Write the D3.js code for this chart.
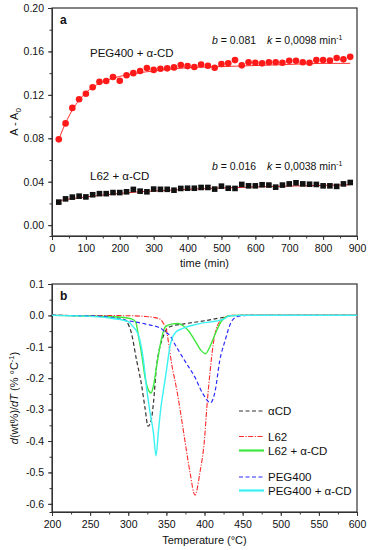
<!DOCTYPE html>
<html>
<head>
<meta charset="utf-8">
<script src="https://cdn.jsdelivr.net/npm/d3@7"></script>
<style>
body { margin: 0; background: #fff; }
svg text { font-family: "Liberation Sans", Arial, sans-serif; fill: #111; }
.axis path, .axis line { stroke: #333; }
</style>
</head>
<body>
<div id="chart"></div>
<script>
// ---- panel a : absorbance vs time ----
var times = [20,40,60,80,100,120,140,160,180,200,220,240,260,280,300,320,340,360,380,
             400,420,440,460,480,500,520,540,560,580,600,620,640,660,680,700,720,740,760,780,800,820,840,860,880];
var peg_cd = [0.079,0.0937,0.108,0.116,0.121,0.127,0.132,0.1327,0.1364,0.133,0.138,0.140,0.142,0.1447,0.143,0.144,0.1444,0.1453,0.1475,
              0.1465,0.1456,0.148,0.1468,0.145,0.1484,0.149,0.152,0.1472,0.150,0.1496,0.149,0.150,0.150,0.1496,0.1514,0.1514,0.150,0.1496,0.152,0.152,0.1517,0.154,0.1527,0.155];
var l62_cd = [0.0212,0.0242,0.0258,0.0267,0.026,0.028,0.029,0.029,0.030,0.030,0.0307,0.0329,0.0313,0.0307,0.0332,0.033,0.033,0.0322,0.0338,
              0.034,0.034,0.0347,0.0347,0.0332,0.0359,0.034,0.0338,0.0375,0.0362,0.0362,0.0372,0.0369,0.035,0.0369,0.038,0.039,0.038,0.0377,0.0375,0.0362,0.0362,0.0357,0.038,0.0393];
// fitted curves
var fit_t   = [20,40,60,80,100,120,150,200,250,300,400,500,600,700,800,880];
var peg_fit = [0.079,0.094,0.106,0.115,0.122,0.127,0.132,0.137,0.140,0.142,0.145,0.146,0.147,0.148,0.149,0.149];
var l62_fit = [0.0225,0.0235,0.0245,0.0252,0.026,0.0267,0.0277,0.0292,0.0305,0.0315,0.033,0.0342,0.0352,0.036,0.0366,0.0372];
var a_xticks = [0,100,200,300,400,500,600,700,800,900];
var a_yticks = [0.00,0.04,0.08,0.12,0.16,0.20];

// ---- panel b : DTG curves [T, value] ----
var acd = [[200,0],[250,-0.001],[280,-0.004],[292,-0.01],[298,-0.02],[304,-0.055],[311,-0.144],[317,-0.215],[322,-0.295],
           [326,-0.353],[330,-0.335],[333,-0.28],[337,-0.165],[341,-0.105],[344,-0.08],[350,-0.045],[357,-0.034],[373,-0.027],
           [400,-0.017],[425,-0.006],[435,-0.001],[450,0],[600,0]];
var l62 = [[200,0],[300,-0.001],[320,-0.003],[335,-0.007],[342,-0.012],[346,-0.025],[350,-0.045],[353,-0.09],[357,-0.155],
           [363,-0.229],[368,-0.3],[374,-0.394],[381,-0.5],[387.5,-0.572],[394,-0.5],[400,-0.394],[403,-0.295],[407,-0.187],
           [411.5,-0.091],[418,-0.027],[427,-0.006],[435,0],[600,0]];
var l62_acd = [[200,0],[260,-0.003],[290,-0.006],[305,-0.012],[310,-0.022],[313,-0.06],[317.6,-0.123],[322,-0.197],[326,-0.235],
               [330,-0.247],[333,-0.225],[337,-0.165],[344,-0.07],[348,-0.038],[352.5,-0.031],[358,-0.027],[365,-0.026],[372,-0.033],
               [379,-0.049],[390,-0.091],[396,-0.113],[401.5,-0.122],[407,-0.10],[414,-0.059],[422.5,-0.017],[430,-0.003],[440,0],[600,0]];
var peg = [[200,0],[256,-0.002],[280,-0.008],[300,-0.017],[322,-0.027],[344,-0.043],[348,-0.052],[355,-0.065],[361,-0.091],
           [374,-0.144],[387.5,-0.197],[398,-0.25],[408,-0.278],[414,-0.24],[420,-0.144],[427,-0.08],[436,-0.017],[445,-0.002],[460,0],[600,0]];
var peg_acd = [[200,0],[256,-0.004],[280,-0.01],[300,-0.02],[306,-0.035],[313,-0.06],[320,-0.144],[324,-0.229],[328,-0.3],
               [333,-0.373],[336.4,-0.447],[339.5,-0.37],[343,-0.29],[347,-0.225],[351,-0.16],[355,-0.095],[359,-0.065],[363,-0.052],
               [370,-0.043],[392,-0.027],[425,-0.012],[432,-0.002],[445,0],[600,0]];
var b_xticks = [200,250,300,350,400,450,500,550,600];
var b_yticks = [-0.6,-0.5,-0.4,-0.3,-0.2,-0.1,0.0,0.1];

var curves = [
    {name: "\u03b1CD",            data: acd,     color: "#333",    dash: "4,2.5", width: 1.2},
    {name: "L62",                 data: l62,     color: "#ff2a2a", dash: "5,1.5,1.2,1.5", width: 1.1},
    {name: "L62 + \u03b1-CD",     data: l62_acd, color: "#3ee83e", dash: null,    width: 1.4},
    {name: "PEG400",              data: peg,     color: "#2b2bff", dash: "4,2.5", width: 1.2},
    {name: "PEG400 + \u03b1-CD",  data: peg_acd, color: "#3af2f2", dash: null,    width: 1.4}
];

var W = 368, H = 550;
var svg = d3.select("#chart").append("svg").attr("width", W).attr("height", H);

function add_axes(g, x, y, xt, yt, xminor, yminor, xfmt, yfmt, w, h){
    g.append("g").attr("class", "axis").attr("transform", "translate(0," + h + ")")
        .call(d3.axisBottom(x).tickValues(xminor).tickSize(2.5).tickFormat(""));
    g.append("g").attr("class", "axis").attr("transform", "translate(0," + h + ")")
        .call(d3.axisBottom(x).tickValues(xt).tickSize(4).tickSizeOuter(0).tickPadding(5).tickFormat(xfmt))
        .selectAll("text").style("font-size", "10.5px");
    g.append("g").attr("class", "axis")
        .call(d3.axisLeft(y).tickValues(yminor).tickSize(2.5).tickFormat(""));
    g.append("g").attr("class", "axis")
        .call(d3.axisLeft(y).tickValues(yt).tickSize(4).tickSizeOuter(0).tickPadding(4).tickFormat(yfmt))
        .selectAll("text").style("font-size", "10.5px");
    g.append("rect").attr("width", w).attr("height", h)
        .attr("fill", "none").attr("stroke", "#333").attr("stroke-width", 1.2);
}

// ---------- panel a ----------
var ma = {left: 52, top: 8}, wa = 305, ha = 228;
var ga = svg.append("g").attr("transform", "translate(" + ma.left + "," + ma.top + ")");
var xa = d3.scaleLinear().domain([0, 900]).range([0, wa]);
var ya = d3.scaleLinear().domain([-0.01, 0.20]).range([ha, 0]);

add_axes(ga, xa, ya, a_xticks, a_yticks,
    d3.range(0, 901, 50), d3.range(-0.0, 0.201, 0.02),
    function(d){ return d; }, function(d){ return d.toFixed(2); }, wa, ha);

var fitline = d3.line()
    .x(function(d){ return xa(d[0]); })
    .y(function(d){ return ya(d[1]); })
    .curve(d3.curveMonotoneX);

ga.append("path").datum(fit_t.map(function(t, i){ return [t, peg_fit[i]]; }))
    .attr("d", fitline).attr("fill", "none").attr("stroke", "#ff3030").attr("stroke-width", 1);
ga.append("path").datum(fit_t.map(function(t, i){ return [t, l62_fit[i]]; }))
    .attr("d", fitline).attr("fill", "none").attr("stroke", "#e02020").attr("stroke-width", 1);

ga.selectAll("circle.peg").data(times).enter().append("circle")
    .attr("class", "peg")
    .attr("cx", function(d){ return xa(d); })
    .attr("cy", function(d, i){ return ya(peg_cd[i]); })
    .attr("r", 3.3).attr("fill", "#ff1a1a");

ga.selectAll("rect.l62").data(times).enter().append("rect")
    .attr("class", "l62")
    .attr("x", function(d){ return xa(d) - 2.8; })
    .attr("y", function(d, i){ return ya(l62_cd[i]) - 2.8; })
    .attr("width", 5.6).attr("height", 5.6).attr("fill", "#111");

ga.append("text").attr("x", 8).attr("y", 16).style("font-size", "12px").style("font-weight", "bold").text("a");
ga.append("text").attr("x", 38).attr("y", 49).style("font-size", "11.5px").text("PEG400 + \u03b1-CD");
ga.append("text").attr("x", 38).attr("y", 172).style("font-size", "11.5px").text("L62 + \u03b1-CD");

function fit_label(g, x, y, b, k){
    var t = g.append("text").attr("x", x).attr("y", y).style("font-size", "10.5px");
    t.append("tspan").style("font-style", "italic").text("b");
    t.append("tspan").text(" = " + b);
    t.append("tspan").attr("dx", 11).style("font-style", "italic").text("k");
    t.append("tspan").text(" = " + k + " min");
    t.append("tspan").attr("dy", -4).style("font-size", "7px").text("-1");
}
fit_label(ga, 160, 36, "0.081", "0,0098");
fit_label(ga, 160, 162, "0.016", "0,0038");

ga.append("text").attr("x", wa / 2).attr("y", ha + 31).attr("text-anchor", "middle")
    .style("font-size", "11px").text("time (min)");
var yla = svg.append("text").attr("transform", "translate(18," + (ma.top + 114) + ") rotate(-90)")
    .attr("text-anchor", "middle").style("font-size", "11px");
yla.append("tspan").text("A - A");
yla.append("tspan").attr("dy", 3).style("font-size", "8px").text("0");

// ---------- panel b ----------
var mb = {left: 52, top: 284}, wb = 305, hb = 228;
var gb = svg.append("g").attr("transform", "translate(" + mb.left + "," + mb.top + ")");
var xb = d3.scaleLinear().domain([200, 600]).range([0, wb]);
var yb = d3.scaleLinear().domain([-0.626, 0.1]).range([hb, 0]);

add_axes(gb, xb, yb, b_xticks, b_yticks,
    d3.range(200, 601, 25), d3.range(-0.6, 0.101, 0.05),
    function(d){ return d; }, function(d){ return d.toFixed(1); }, wb, hb);

var dtg = d3.line()
    .x(function(d){ return xb(d[0]); })
    .y(function(d){ return yb(d[1]); })
    .curve(d3.curveMonotoneX);

gb.append("defs").append("clipPath").attr("id", "clipb")
    .append("rect").attr("width", wb).attr("height", hb);

gb.append("g").attr("clip-path", "url(#clipb)")
    .selectAll("path").data(curves).enter().append("path")
    .attr("d", function(d){ return dtg(d.data); })
    .attr("fill", "none")
    .attr("stroke", function(d){ return d.color; })
    .attr("stroke-width", function(d){ return d.width; })
    .attr("stroke-dasharray", function(d){ return d.dash; });

gb.append("text").attr("x", 8).attr("y", 16).style("font-size", "12px").style("font-weight", "bold").text("b");

// legend (gaps between groups like the original)
var legend_y = [127, 152.5, 166.5, 193, 206.5];
var lg = gb.append("g").attr("transform", "translate(187,0)");
var item = lg.selectAll("g").data(curves).enter().append("g")
    .attr("transform", function(d, i){ return "translate(0," + legend_y[i] + ")"; });
item.append("line").attr("x1", 0).attr("x2", 25).attr("y1", 0).attr("y2", 0)
    .attr("stroke", function(d){ return d.color; })
    .attr("stroke-width", function(d){ return d.dash ? 1.2 : 2.2; })
    .attr("stroke-dasharray", function(d){ return d.dash; });
item.append("text").attr("x", 29).attr("y", 4).style("font-size", "11.5px")
    .text(function(d){ return d.name; });

gb.append("text").attr("x", wb / 2).attr("y", hb + 32).attr("text-anchor", "middle")
    .style("font-size", "11px").text("Temperature (\u00b0C)");
var ylb = svg.append("text").attr("transform", "translate(18," + (mb.top + 114) + ") rotate(-90)")
    .attr("text-anchor", "middle").style("font-size", "11px");
ylb.append("tspan").style("font-style", "italic").text("d");
ylb.append("tspan").text("(wt%)/");
ylb.append("tspan").style("font-style", "italic").text("dT");
ylb.append("tspan").text(" (% \u00b0C");
ylb.append("tspan").attr("dy", -4).style("font-size", "7.5px").text("-1");
ylb.append("tspan").attr("dy", 4).text(")");
</script>
</body>
</html>
